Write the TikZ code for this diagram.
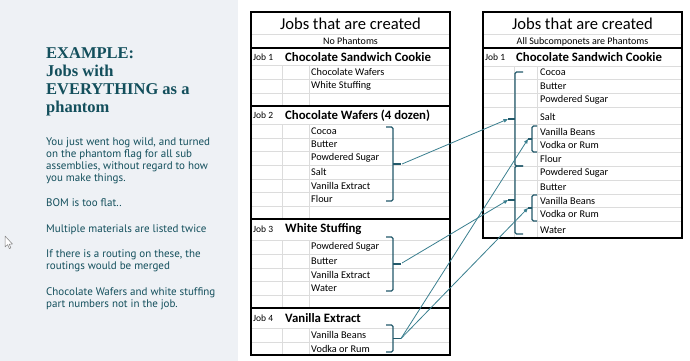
\documentclass[tikz,border=0pt]{standalone}
\usepackage{fontspec}
\setmainfont{Carlito}
\newfontfamily\titlefont{Liberation Serif}
\newfontfamily\bodyfont{PT Sans}
\usetikzlibrary{arrows.meta}
\definecolor{panel}{HTML}{EEF1F5}
\definecolor{ink}{HTML}{134F5C}
\definecolor{gridc}{HTML}{DCDCDC}
\definecolor{brc}{HTML}{22596A}
\definecolor{arrc}{HTML}{3A7F8F}
\begin{document}
\begin{tikzpicture}[x=1pt,y=-1pt,
 ttl/.style={font=\titlefont\bfseries\fontsize{16.5}{18}\selectfont, text=ink, anchor=base west, inner sep=0},
 body/.style={font=\bodyfont\fontsize{11}{12.3}\selectfont, text=ink, anchor=base west, inner sep=0},
 head/.style={font=\fontsize{16.6}{18}\selectfont, anchor=center, inner sep=0},
 sub/.style={font=\fontsize{10}{11}\selectfont, anchor=center, inner sep=0},
 job/.style={font=\fontsize{9.5}{10}\selectfont, anchor=west, inner sep=0},
 jname/.style={font=\bfseries\fontsize{12.8}{14}\selectfont, anchor=west, inner sep=0},
 item/.style={font=\fontsize{10.3}{11}\selectfont, anchor=west, inner sep=0},
 gridline/.style={gridc, line width=0.8pt},
 border/.style={black, line width=1.3pt},
 brace/.style={brc, line width=1.3pt, rounded corners=1.5pt},
 conn/.style={arrc, line width=0.8pt, -{Triangle[length=4.5pt,width=3.5pt]}}
]
\useasboundingbox (0,0) rectangle (690,361);
\fill[white] (0,0) rectangle (690,361);
\fill[panel] (0,0) rectangle (238,361);

% cursor
\draw[gray, fill=white, line width=0.5pt, line join=round] (5,236) -- (5,247) -- (7.6,244.6) -- (9.4,248.6) -- (10.9,247.9) -- (9.1,244) -- (12.4,244) -- cycle;

% left panel text
\node[ttl] (t1) at (46,58.7) {EXAMPLE:};
\node[ttl] (t2) at (46,76.7) {Jobs with};
\node[ttl] (t3) at (46,94.7) {EVERYTHING as a};
\node[ttl] (t4) at (46,112.5) {phantom};
\node[body] (b1) at (46,145) {You just went hog wild, and turned};
\node[body] (b2) at (46,157.3) {on the phantom flag for all sub};
\node[body] (b3) at (46,169.5) {assemblies, without regard to how};
\node[body] (b4) at (46,181.8) {you make things.};
\node[body] (b5) at (46,206.7) {BOM is too flat..};
\node[body] (b6) at (46,232) {Multiple materials are listed twice};
\node[body] (b7) at (46,257.5) {If there is a routing on these, the};
\node[body] (b8) at (46,269.7) {routings would be merged};
\node[body] (b9) at (46,295) {Chocolate Wafers and white stuffing};
\node[body] (b10) at (46,307.2) {part numbers not in the job.};

% ---------- left table ----------
\foreach \y in {34,65,79,93,124,138,151,165,179,192,206,240,254,268,281,295,328,342}
  \draw[gridline] (251,\y) -- (450,\y);
\foreach \a/\b in {65/106,124/219,240/308,328/355}{
  \draw[gridline] (282,\a) -- (282,\b);
  \draw[gridline] (309,\a) -- (309,\b);}
\draw[border] (251,12) rectangle (450,355);
\foreach \y in {48,106,219,308} \draw[border] (251,\y) -- (450,\y);

\node[head] (lh) at (350.5,23.5) {Jobs that are created};
\node[sub] (ls) at (350.5,41.5) {No Phantoms};
\node[job] (lj1) at (253,57) {Job 1};
\node[jname] (ln1) at (285,57) {Chocolate Sandwich Cookie};
\node[item] (la1) at (311,72) {Chocolate Wafers};
\node[item] (la2) at (311,86) {White Stuffing};
\node[job] (lj2) at (253,115.5) {Job 2};
\node[jname] (ln2) at (285,115.5) {Chocolate Wafers (4 dozen)};
\node[item] (lb1) at (311,131) {Cocoa};
\node[item] (lb2) at (311,144.5) {Butter};
\node[item] (lb3) at (311,158) {Powdered Sugar};
\node[item] (lb4) at (311,172) {Salt};
\node[item] (lb5) at (311,185.5) {Vanilla Extract};
\node[item] (lb6) at (311,199) {Flour};
\node[job] (lj3) at (253,229.5) {Job 3};
\node[jname] (ln3) at (285,229.5) {White Stuffing};
\node[item] (lc1) at (311,247) {Powdered Sugar};
\node[item] (lc2) at (311,261) {Butter};
\node[item] (lc3) at (311,274.5) {Vanilla Extract};
\node[item] (lc4) at (311,288) {Water};
\node[job] (lj4) at (253,318) {Job 4};
\node[jname] (ln4) at (285,318) {Vanilla Extract};
\node[item] (ld1) at (311,335) {Vanilla Beans};
\node[item] (ld2) at (311,348.5) {Vodka or Rum};

% left braces
\draw[brace] (386,127) -- (393,127) -- (393,201) -- (386,201);
\draw[brace] (393,164) -- (401,164);
\draw[brace] (386,237) -- (393,237) -- (393,291) -- (386,291);
\draw[brace] (393,264) -- (401,264);
\draw[brace] (386,325) -- (393,325) -- (393,352) -- (386,352);
\draw[brace] (393,338.5) -- (401,338.5);
\coordinate (L2) at (402,164);
\coordinate (L3) at (402,263);
\coordinate (L4) at (401,338.5);

% ---------- right table ----------
\foreach \y in {34,66,79,93,107,124,138,152,166,180,194,207,221}
  \draw[gridline] (483,\y) -- (682,\y);
\draw[gridline] (514,66) -- (514,238);
\draw[gridline] (537,66) -- (537,238);
\draw[border] (483,12) rectangle (682,238);
\draw[border] (483,48) -- (682,48);

\node[head] (rh) at (582.5,23.5) {Jobs that are created};
\node[sub] (rs) at (582.5,41.5) {All Subcomponets are Phantoms};
\node[job] (rj1) at (485,57) {Job 1};
\node[jname] (rn1) at (516,57) {Chocolate Sandwich Cookie};
\node[item] (r1) at (540,72.5) {Cocoa};
\node[item] (r2) at (540,86) {Butter};
\node[item] (r3) at (540,100) {Powdered Sugar};
\node[item] (r4) at (540,117) {Salt};
\node[item] (r5) at (540,131.5) {Vanilla Beans};
\node[item] (r6) at (540,145) {Vodka or Rum};
\node[item] (r7) at (540,159) {Flour};
\node[item] (r8) at (540,173) {Powdered Sugar};
\node[item] (r9) at (540,187) {Butter};
\node[item] (r10) at (540,200.5) {Vanilla Beans};
\node[item] (r11) at (540,214) {Vodka or Rum};
\node[item] (r12) at (540,230.5) {Water};

% right braces
\draw[brace] (523,72) -- (515,72) -- (515,166) -- (523,166);
\draw[brace] (515,119) -- (508,119);
\draw[brace] (523,166) -- (515,166) -- (515,234) -- (523,234);
\draw[brace] (515,200) -- (508,200);
\draw[brace] (537,126) -- (532,126) -- (532,152) -- (537,152);
\draw[brace] (532,139) -- (528,139);
\draw[brace] (537,195) -- (532,195) -- (532,221) -- (537,221);
\draw[brace] (532,208) -- (528,208);
\coordinate (R1) at (508,119);
\coordinate (R2) at (508,200);
\coordinate (R3) at (528,139);
\coordinate (R4) at (528,208);

% connectors
\draw[conn] (L2) -- (R1);
\draw[conn] (L3) -- (R2);
\draw[conn] (L4) -- (R3);
\draw[conn] (L4) -- (R4);
\end{tikzpicture}
\end{document}
